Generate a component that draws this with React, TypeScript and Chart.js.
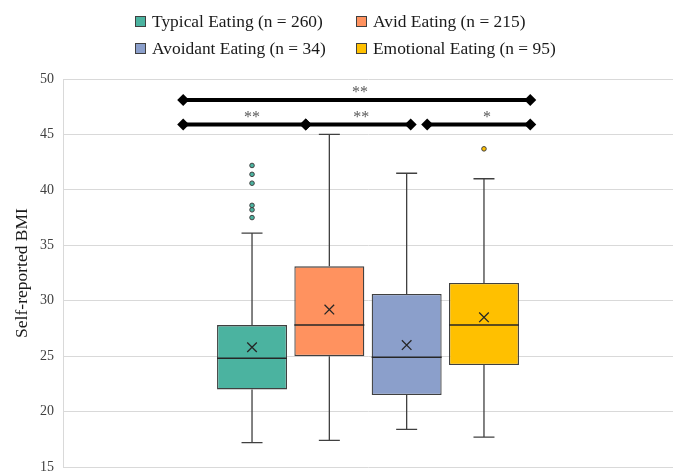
import React, { useEffect, useRef } from 'react';
import { Chart, registerables } from 'chart.js';

Chart.register(...registerables);

// ---- data ----
const groupLabels = [
  'Typical Eating (n = 260)',
  'Avid Eating (n = 215)',
  'Avoidant Eating (n = 34)',
  'Emotional Eating (n = 95)',
];
const fillColors = ['#4BB3A0', '#FF925F', '#8B9FCB', '#FFC000'];
const mins = [17.2, 17.4, 18.4, 17.7];
const q1s = [22.0, 25.0, 21.5, 24.2];
const medians = [24.8, 27.8, 24.9, 27.8];
const q3s = [27.8, 33.1, 30.6, 31.6];
const maxs = [36.1, 45.0, 41.5, 41.0];
const means = [25.8, 29.2, 26.0, 28.5];
const outliers: number[][] = [[37.5, 38.2, 38.6, 40.6, 41.4, 42.2], [], [], [43.7]];

const yMin = 15;
const yMax = 50;
const yStep = 5;

// significance brackets (x as a fraction of the plot width)
const bracketFrom = [0.197, 0.197, 0.398, 0.597];
const bracketTo = [0.766, 0.398, 0.570, 0.766];
const bracketY = [48.1, 45.9, 45.9, 45.9];
const bracketLabels = ['**', '**', '**', '*'];
const bracketLabelX = [0.487, 0.31, 0.489, 0.695];

const FONT = "'Liberation Serif', 'Times New Roman', serif";
const LINE = '#404040';

export default function App() {
  const ref = useRef<HTMLCanvasElement>(null);

  useEffect(() => {
    document.body.style.margin = '0';
    const boxPlugin = {
      id: 'boxDetails',
      afterDatasetsDraw(chart: any) {
        const ctx = chart.ctx as CanvasRenderingContext2D;
        const y = chart.scales.y;
        const x = chart.scales.x;
        ctx.save();
        for (let i = 0; i < groupLabels.length; i++) {
          const bar = chart.getDatasetMeta(i).data[0] as any;
          const cx = bar.x;
          const w = bar.width;
          const cap = w * 0.15;
          ctx.strokeStyle = LINE;
          ctx.lineWidth = 1.3;
          ctx.beginPath();
          ctx.moveTo(cx, y.getPixelForValue(q3s[i]));
          ctx.lineTo(cx, y.getPixelForValue(maxs[i]));
          ctx.moveTo(cx - cap, y.getPixelForValue(maxs[i]));
          ctx.lineTo(cx + cap, y.getPixelForValue(maxs[i]));
          ctx.moveTo(cx, y.getPixelForValue(q1s[i]));
          ctx.lineTo(cx, y.getPixelForValue(mins[i]));
          ctx.moveTo(cx - cap, y.getPixelForValue(mins[i]));
          ctx.lineTo(cx + cap, y.getPixelForValue(mins[i]));
          ctx.stroke();
          // median
          ctx.beginPath();
          ctx.strokeStyle = '#262626';
          ctx.lineWidth = 1.5;
          const my = y.getPixelForValue(medians[i]);
          ctx.moveTo(cx - w / 2, my);
          ctx.lineTo(cx + w / 2, my);
          ctx.stroke();
          // mean marker
          const mny = y.getPixelForValue(means[i]);
          const s = 4.8;
          ctx.beginPath();
          ctx.lineWidth = 1.3;
          ctx.moveTo(cx - s, mny - s);
          ctx.lineTo(cx + s, mny + s);
          ctx.moveTo(cx + s, mny - s);
          ctx.lineTo(cx - s, mny + s);
          ctx.stroke();
          // outliers
          for (const v of outliers[i]) {
            ctx.beginPath();
            ctx.arc(cx, y.getPixelForValue(v), 2.3, 0, Math.PI * 2);
            ctx.fillStyle = fillColors[i];
            ctx.fill();
            ctx.lineWidth = 1;
            ctx.strokeStyle = LINE;
            ctx.stroke();
          }
        }
        // significance brackets
        for (let i = 0; i < bracketFrom.length; i++) {
          const xa = x.getPixelForDecimal(bracketFrom[i]);
          const xb = x.getPixelForDecimal(bracketTo[i]);
          const by = y.getPixelForValue(bracketY[i]);
          ctx.beginPath();
          ctx.strokeStyle = '#000';
          ctx.lineWidth = 4;
          ctx.moveTo(xa, by);
          ctx.lineTo(xb, by);
          ctx.stroke();
          ctx.fillStyle = '#000';
          for (const px of [xa, xb]) {
            const d = 6;
            ctx.beginPath();
            ctx.moveTo(px - d, by);
            ctx.lineTo(px, by - d);
            ctx.lineTo(px + d, by);
            ctx.lineTo(px, by + d);
            ctx.closePath();
            ctx.fill();
          }
        }
        ctx.fillStyle = '#595959';
        ctx.font = `16px ${FONT}`;
        ctx.textAlign = 'center';
        ctx.textBaseline = 'middle';
        for (let i = 0; i < bracketLabels.length; i++) {
          const cx = x.getPixelForDecimal(bracketLabelX[i]);
          ctx.fillText(bracketLabels[i], cx, y.getPixelForValue(bracketY[i]) - 7);
        }
        ctx.restore();
      },
    };

    const datasets: any[] = groupLabels.map((label, i) => ({
      label,
      data: [[q1s[i], q3s[i]]],
      backgroundColor: fillColors[i],
      borderColor: LINE,
      borderWidth: 1.3,
      borderSkipped: false,
      categoryPercentage: 0.507,
      barPercentage: 0.905,
    }));

    const chart = new Chart(ref.current as HTMLCanvasElement, {
      type: 'bar',
      data: { labels: [''], datasets },
      options: {
        responsive: false,
        animation: false,
        layout: { padding: { top: 79, right: 5, bottom: 7, left: 8 } },
        plugins: { legend: { display: false }, tooltip: { enabled: false } },
        scales: {
          x: { display: false },
          y: {
            min: yMin,
            max: yMax,
            afterFit: (scale: any) => {
              scale.width = 55;
              scale.paddingTop = 0;
              scale.paddingBottom = 0;
            },
            ticks: {
              stepSize: yStep,
              padding: 9,
              color: '#404040',
              font: { family: FONT, size: 14 },
            },
            grid: { color: '#d9d9d9', lineWidth: 1, drawTicks: false, tickLength: 0 },
            border: { display: true, color: '#d9d9d9' },
            title: {
              display: true,
              text: 'Self-reported BMI',
              color: '#1a1a1a',
              font: { family: FONT, size: 17.5 },
              padding: { top: 4, bottom: 4 },
            },
          },
        },
      } as any,
      plugins: [boxPlugin],
    } as any);
    return () => chart.destroy();
  }, []);

  const legendPos = [
    { left: 135, top: 11 },
    { left: 356, top: 11 },
    { left: 135, top: 38 },
    { left: 356, top: 38 },
  ];

  return (
    <div style={{ position: 'relative', width: 678, height: 474, background: '#fff' }}>
      <canvas ref={ref} width={678} height={474} style={{ position: 'absolute', left: 0, top: 0 }} />
      {groupLabels.map((label, i) => (
        <div
          key={label}
          style={{
            position: 'absolute',
            left: legendPos[i].left,
            top: legendPos[i].top,
            height: 20,
            display: 'flex',
            alignItems: 'center',
            whiteSpace: 'nowrap',
            fontFamily: FONT,
            fontSize: 17.4,
            color: '#1a1a1a',
          }}
        >
          <span
            style={{
              display: 'inline-block',
              width: 9,
              height: 9,
              background: fillColors[i],
              border: `1px solid ${LINE}`,
              marginRight: 6,
            }}
          />
          <span>{label}</span>
        </div>
      ))}
    </div>
  );
}
